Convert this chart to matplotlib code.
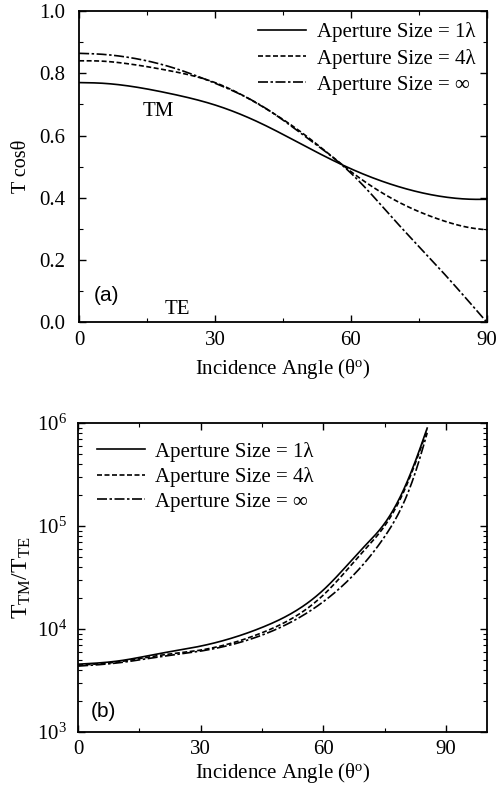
import matplotlib
matplotlib.use("Agg")
import matplotlib.pyplot as plt
import numpy as np
from matplotlib.ticker import MultipleLocator, LogLocator, NullFormatter

plt.rcParams['font.family'] = ['Liberation Serif', 'DejaVu Serif']
plt.rcParams['mathtext.fontset'] = 'custom'
plt.rcParams['mathtext.rm'] = 'Liberation Serif'
plt.rcParams['mathtext.it'] = 'Liberation Serif:italic'
plt.rcParams['mathtext.default'] = 'regular'

# Panel (a): T cos(theta) vs incidence angle
angle_a = [0, 5, 10, 20, 30, 40, 50, 60, 70, 80, 87, 90]
tcos_1lam = [0.770, 0.768, 0.761, 0.735, 0.698, 0.640, 0.565, 0.493, 0.438, 0.404, 0.395, 0.395]
tcos_4lam = [0.840, 0.839, 0.832, 0.808, 0.770, 0.697, 0.600, 0.484, 0.390, 0.328, 0.302, 0.297]
angle_inf = [0, 5, 10, 20, 30, 40, 50, 60, 70, 80, 90]
tcos_inf = [0.864, 0.861, 0.853, 0.821, 0.768, 0.698, 0.596, 0.479, 0.322, 0.165, 0.0]

# Panel (b): T_TM / T_TE vs incidence angle
angle_b = [0, 10, 20, 30, 45, 60, 70, 75, 80, 83, 85.4]
ratio_1lam = [4550, 4900, 5780, 6820, 10350, 23900, 63000, 106000, 242000, 480000, 890000]
ratio_4lam = [4450, 4800, 5550, 6240, 9190, 21350, 58000, 100000, 230000, 460000, 860000]
ratio_inf = [4360, 4700, 5370, 6100, 8720, 18400, 43400, 78800, 180000, 380000, 800000]

labels = ['Aperture Size = 1\u03bb', 'Aperture Size = 4\u03bb', 'Aperture Size = \u221e']
styles = ['-', (0, (3, 1.5)), (0, (6, 1.5, 1.5, 1.5))]

def smooth(x, y, n=300, log=False):
    """Natural cubic spline through the read points, for smooth drawing."""
    x = np.asarray(x, float); y = np.asarray(y, float)
    if log:
        y = np.log10(y)
    N = len(x)
    h = np.diff(x)
    A = np.zeros((N, N)); b = np.zeros(N)
    A[0, 0] = 1; A[-1, -1] = 1
    for i in range(1, N - 1):
        A[i, i-1] = h[i-1]; A[i, i] = 2*(h[i-1] + h[i]); A[i, i+1] = h[i]
        b[i] = 6*((y[i+1] - y[i])/h[i] - (y[i] - y[i-1])/h[i-1])
    M = np.linalg.solve(A, b)
    xs = np.linspace(x[0], x[-1], n)
    idx = np.clip(np.searchsorted(x, xs) - 1, 0, N - 2)
    xi, xi1, hi = x[idx], x[idx+1], h[idx]
    ys = (M[idx]*(xi1 - xs)**3/(6*hi) + M[idx+1]*(xs - xi)**3/(6*hi)
          + (y[idx]/hi - M[idx]*hi/6)*(xi1 - xs) + (y[idx+1]/hi - M[idx+1]*hi/6)*(xs - xi))
    if log:
        ys = 10**ys
    return xs, ys

fig = plt.figure(figsize=(5.04, 7.86), dpi=100)
ax1 = fig.add_axes([0.157, 0.590, 0.809, 0.396])
ax2 = fig.add_axes([0.155, 0.0687, 0.811, 0.3933])

fs = 15
lw = 1.2
for (x, y), lab, ls in zip([(angle_a, tcos_1lam), (angle_a, tcos_4lam), (angle_inf, tcos_inf)], labels, styles):
    xs, ys = smooth(x, y)
    ax1.plot(xs, ys, color='black', lw=lw, linestyle=ls, label=lab)

ax1.set_xlim(0, 90)
ax1.set_ylim(0, 1.0)
ax1.xaxis.set_major_locator(MultipleLocator(30))
ax1.xaxis.set_minor_locator(MultipleLocator(15))
ax1.yaxis.set_major_locator(MultipleLocator(0.2))
ax1.yaxis.set_minor_locator(MultipleLocator(0.1))
ax1.yaxis.set_major_formatter(matplotlib.ticker.FormatStrFormatter('%.1f'))
ax1.set_xlabel('Incidence Angle (\u03b8$^{o}$)', fontsize=fs, labelpad=5)
ax1.set_ylabel('T cos\u03b8', fontsize=14.5, labelpad=6)
ax1.text(17.4, 0.678, 'TM', fontsize=fs, ha='center', va='center')
ax1.text(21.6, 0.042, 'TE', fontsize=fs, ha='center', va='center')
ax1.text(6.1, 0.087, '(a)', fontsize=fs, ha='center', va='center', family=['Liberation Sans', 'DejaVu Sans'])
leg1 = ax1.legend(loc='upper right', frameon=False, fontsize=fs, handlelength=2.3,
                  handletextpad=0.5, labelspacing=0.3, borderaxespad=0.15)

for (x, y), lab, ls in zip([(angle_b, ratio_1lam), (angle_b, ratio_4lam), (angle_b, ratio_inf)], labels, styles):
    xs, ys = smooth(x, y, log=True)
    ax2.plot(xs, ys, color='black', lw=lw, linestyle=ls, label=lab)

ax2.set_yscale('log')
ax2.set_xlim(0, 100)
ax2.set_ylim(1e3, 1e6)
ax2.xaxis.set_major_locator(MultipleLocator(30))
ax2.xaxis.set_minor_locator(MultipleLocator(15))
ax2.yaxis.set_major_locator(LogLocator(base=10, numticks=10))
ax2.yaxis.set_minor_locator(LogLocator(base=10, subs=np.arange(2, 10), numticks=20))
ax2.yaxis.set_minor_formatter(NullFormatter())
ax2.set_xlabel('Incidence Angle (\u03b8$^{o}$)', fontsize=fs, labelpad=1)
ax2.set_ylabel('$T_{TM}/T_{TE}$', fontsize=17, labelpad=3)
ax2.text(0.061, 0.065, '(b)', fontsize=fs, ha='center', va='center', transform=ax2.transAxes,
         family=['Liberation Sans', 'DejaVu Sans'])
leg2 = ax2.legend(loc='upper left', frameon=False, fontsize=fs, handlelength=2.3,
                  handletextpad=0.5, labelspacing=0.25, borderaxespad=0.5)

for ax in (ax1, ax2):
    ax.tick_params(which='both', direction='in', top=True, right=True, labelsize=fs)
    ax.tick_params(which='major', length=5, width=1)
    ax.tick_params(which='minor', length=3, width=0.8)
    ax.tick_params(axis='x', which='major', pad=6)
    for s in ax.spines.values():
        s.set_linewidth(1.3)
ax1.tick_params(axis='y', which='major', pad=10)
ax2.tick_params(axis='y', which='major', pad=8)

fig.savefig('out.png', dpi=100)
